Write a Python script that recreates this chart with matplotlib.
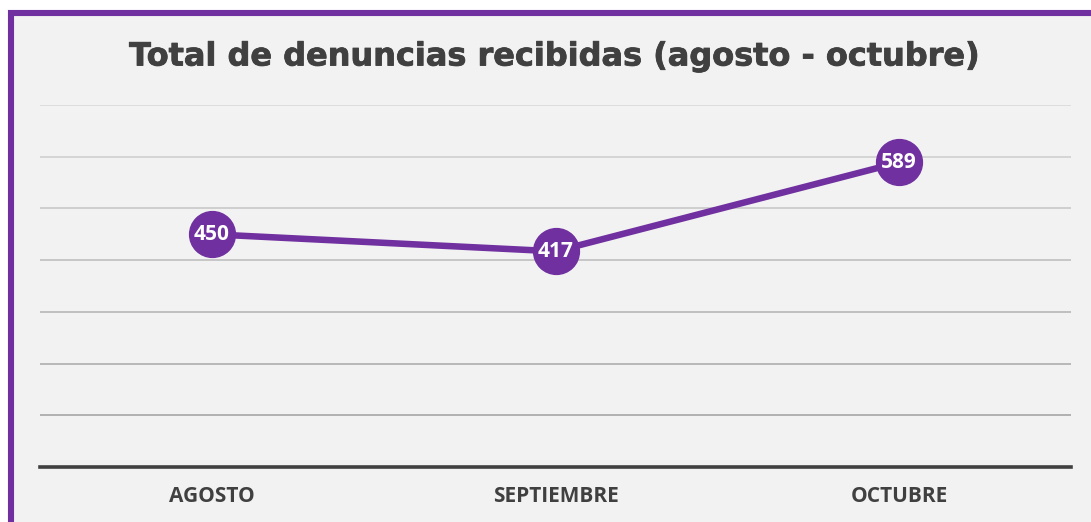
import matplotlib
matplotlib.use("Agg")
import matplotlib.pyplot as plt
import matplotlib.patches as patches
import matplotlib.patheffects as pe
import numpy as np

# Data
months = ["AGOSTO", "SEPTIEMBRE", "OCTUBRE"]
denuncias = [450, 417, 589]
grid_values = [100, 200, 300, 400, 500, 600, 700]

purple = "#7030a0"
text_gray = "#404040"
bg = "#f2f2f2"

W, H = 1091, 522
fig = plt.figure(figsize=(W / 100, H / 100), dpi=100)
fig.patch.set_facecolor("white")

# Chart panel with purple frame (cut off on the right and bottom)
top = 1 - 13 / H
frame = patches.Rectangle((11 / W, -0.2), 1.2, top + 0.2, transform=fig.transFigure,
                          facecolor=bg, edgecolor=purple, linewidth=4.4, zorder=-5)
fig.patches.append(frame)

ax = fig.add_axes([40 / W, 1 - 467 / H, (1071 - 40) / W, (467 - 105) / H])
ax.set_zorder(5)
ax.set_facecolor("none")
ax.set_xlim(0, 3)
ax.set_ylim(0, 700)

# Gridlines get darker towards the bottom
grid_colors = np.linspace(0.65, 0.85, len(grid_values))
for v, c in zip(grid_values, grid_colors):
    ax.axhline(v, color=str(c), linewidth=1.2, zorder=1)
ax.axhline(0, color=text_gray, linewidth=2.6, zorder=2, clip_on=False)

x = np.arange(len(months)) + 0.5
ax.plot(x, denuncias, color=purple, linewidth=4.7, marker="o", markersize=33,
        markerfacecolor=purple, markeredgecolor=purple, zorder=3, clip_on=False)
for xi, v in zip(x, denuncias):
    ax.text(xi, v, str(v), ha="center", va="center", color="white", fontsize=15,
            fontweight="bold", family="Open Sans", zorder=4)

ax.set_xticks(x)
ax.set_xticklabels(months, fontsize=15, fontweight="bold", color=text_gray, family="Open Sans")
ax.tick_params(axis="x", length=0, pad=14)
ax.set_yticks([])
for s in ax.spines.values():
    s.set_visible(False)

fig.text(555 / W, 1 - 57 / H, "Total de denuncias recibidas (agosto - octubre)", ha="center",
         va="center", fontsize=23, fontweight="bold", color=text_gray, family="DejaVu Sans",
         zorder=10, path_effects=[pe.withStroke(linewidth=0.6, foreground=text_gray)])

fig.savefig("out.png", dpi=100)
